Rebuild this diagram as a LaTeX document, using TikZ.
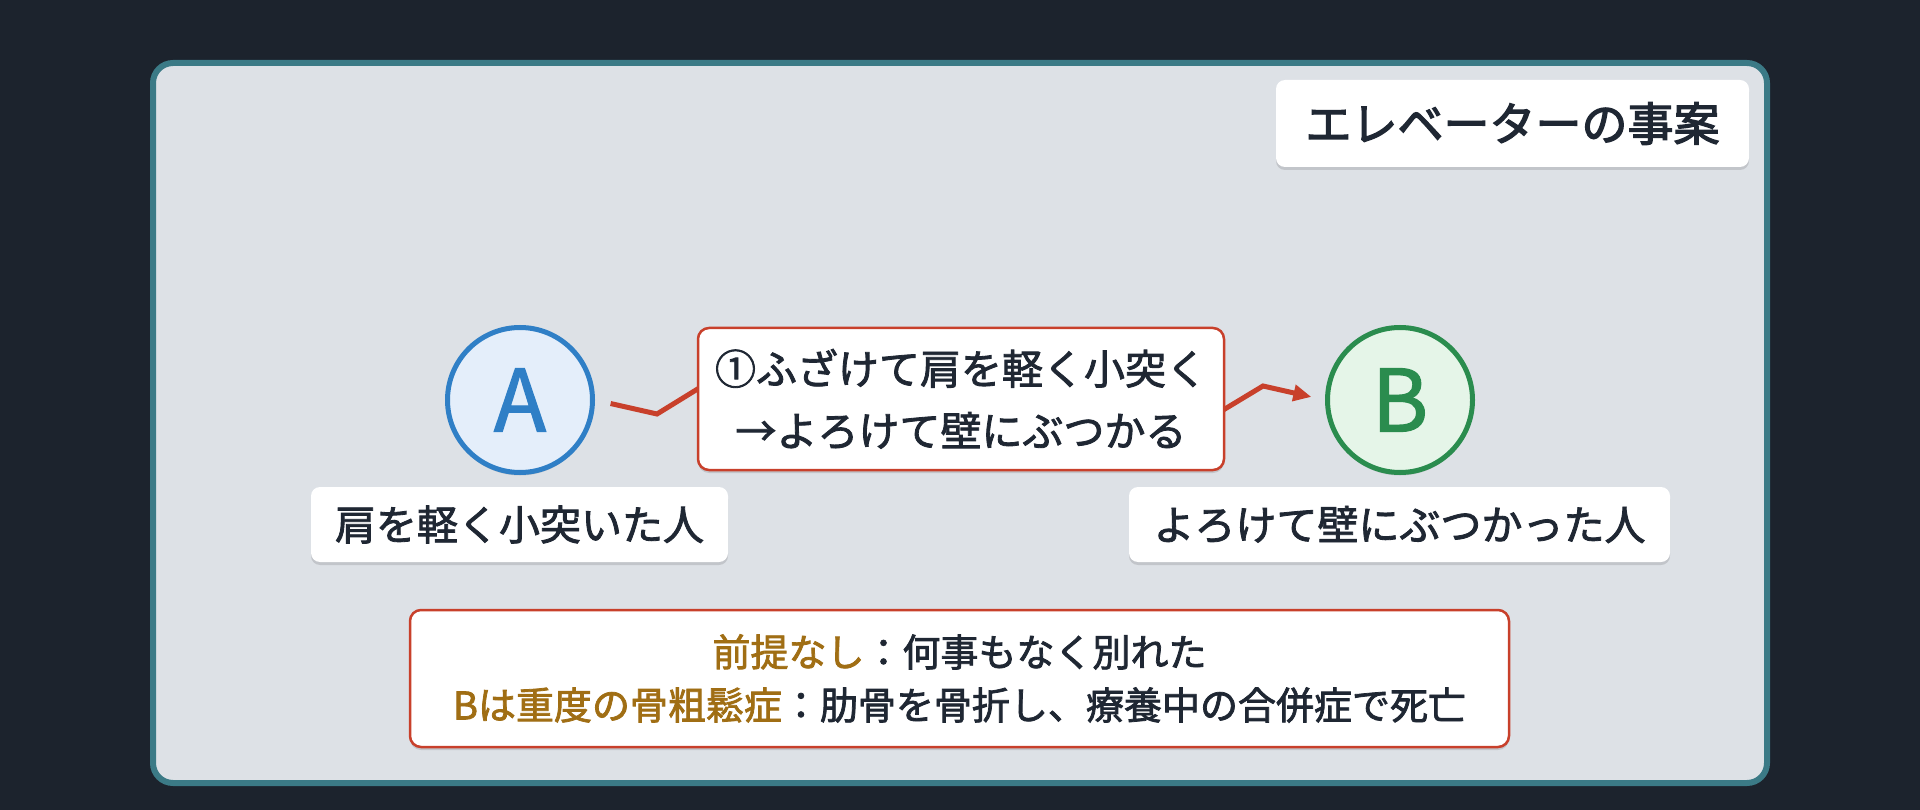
\documentclass[tikz,border=0pt]{standalone}
\usepackage{fontspec}
\setmainfont{Noto Sans CJK JP}
\newfontfamily\jp[FakeBold=2]{Noto Sans CJK JP}
\newfontfamily\jpt[FakeBold=2.8]{Noto Sans CJK JP}
\newfontfamily\jpl[FakeBold=1.5]{Noto Sans CJK JP}
\usetikzlibrary{arrows.meta,shadows}
\definecolor{bgdark}{HTML}{1C232D}
\definecolor{panel}{HTML}{DDE1E6}
\definecolor{teal}{HTML}{3B7A86}
\definecolor{ink}{HTML}{1F2733}
\definecolor{redline}{HTML}{C8402B}
\definecolor{gold}{HTML}{A06E14}
\definecolor{blueA}{HTML}{2F7FC6}
\definecolor{blueFill}{HTML}{E4EEFA}
\definecolor{greenB}{HTML}{2A8C4E}
\definecolor{greenFill}{HTML}{E5F5E8}
\tikzset{
  softshadow/.style={drop shadow={shadow xshift=0pt,shadow yshift=-3pt,opacity=0.12,fill=black}},
  card/.style={fill=white,draw=none,rounded corners=9pt,inner sep=0pt,softshadow,
    text=ink,font=\jp\fontsize{41}{50}\selectfont},
  redcard/.style={fill=white,draw=redline,line width=2.5pt,rounded corners=11pt,inner sep=0pt,
    softshadow,text=ink,align=center},
  person/.style={circle,line width=5pt,minimum size=145pt,inner sep=0pt,softshadow,
    font=\jpl\fontsize{86}{90}\selectfont},
  conn/.style={draw=redline,line width=5pt,-{Triangle[length=18pt,width=16pt]}},
}
\begin{document}
\begin{tikzpicture}[x=1pt,y=-1pt]
\useasboundingbox (0,0) rectangle (1920,810);
\fill[bgdark] (0,0) rectangle (1920,810);
\draw[teal,line width=6pt,fill=panel,rounded corners=20pt] (153,63) rectangle (1767,783);

\node[card,minimum width=473pt,minimum height=87pt,font=\jpt\fontsize{46}{50}\selectfont] (title) at (1512.5,123.5) {エレベーターの事案};

\node[person,draw=blueA,fill=blueFill,text=blueA] (A) at (520,400) {A};
\node[person,draw=greenB,fill=greenFill,text=greenB] (B) at (1400,400) {B};

\coordinate (c1) at (657,414);
\coordinate (c2) at (722,374);
\coordinate (c3) at (1200,424);
\coordinate (c4) at (1263,386);
\draw[conn,shorten <=16pt,shorten >=14pt] (A.east) -- (c1) -- (c2) -- (c3) -- (c4) -- (B.west);

\node[redcard,minimum width=526pt,minimum height=142pt,font=\jp\fontsize{41}{62}\selectfont] (act) at (961,399) {①ふざけて肩を軽く小突く\\→よろけて壁にぶつかる};

\node[card,minimum width=417pt,minimum height=75pt] (la) at (519.5,524.5) {肩を軽く小突いた人};
\node[card,minimum width=541pt,minimum height=75pt] (lb) at (1399.5,524.5) {よろけて壁にぶつかった人};

\node[redcard,minimum width=1099pt,minimum height=137pt,font=\jp\fontsize{38}{53}\selectfont] (note) at (959.5,678.5) {\textcolor{gold}{前提なし}：何事もなく別れた\\\textcolor{gold}{Bは重度の骨粗鬆症}：肋骨を骨折し、療養中の合併症で死亡};
\end{tikzpicture}
\end{document}
